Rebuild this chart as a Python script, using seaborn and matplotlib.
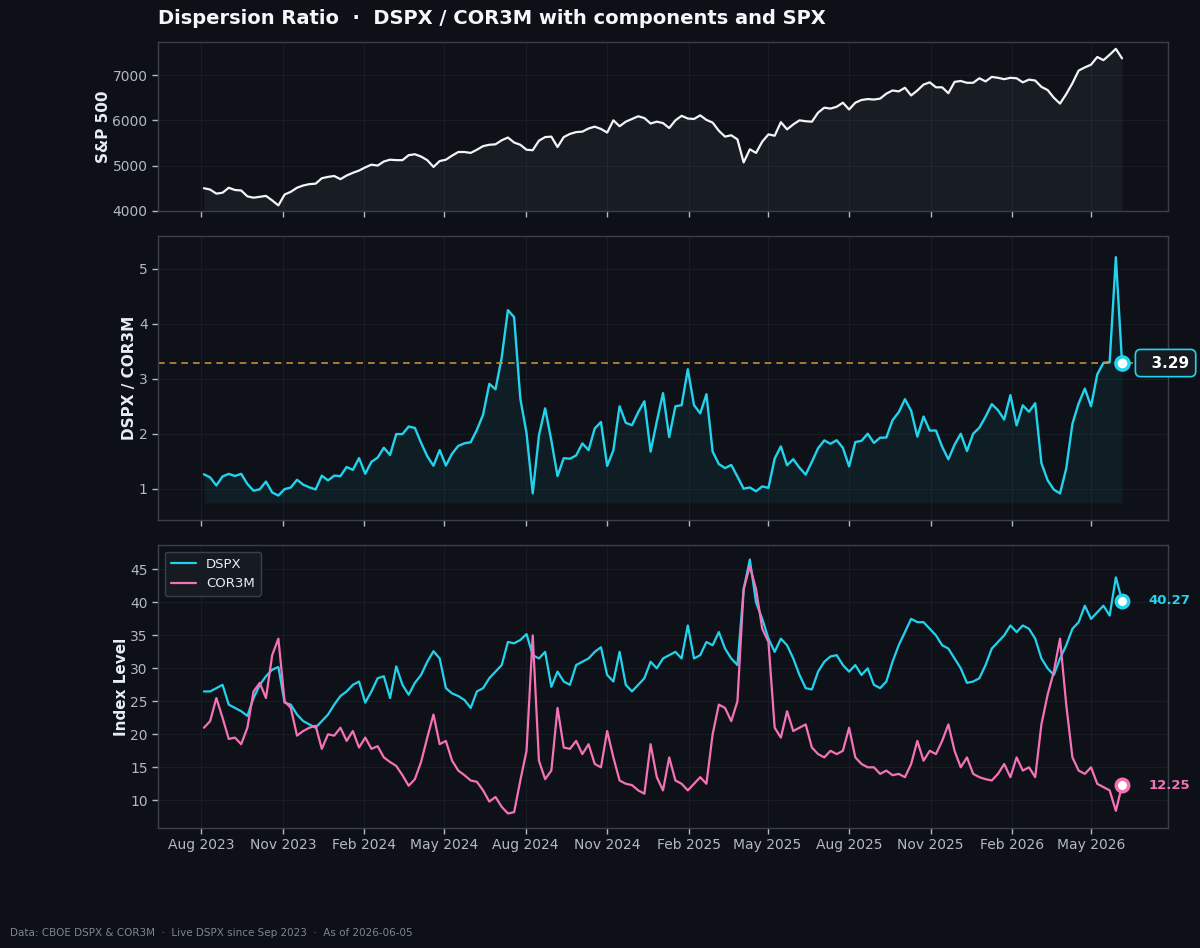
import numpy as np
import pandas as pd
import matplotlib
matplotlib.use("Agg")
import matplotlib.pyplot as plt
import matplotlib.dates as mdates
import seaborn as sns

# ---------------- data (weekly readings, Fridays) ----------------
dates = pd.date_range("2023-08-04", "2026-06-05", freq="7D")

spx = [4500, 4470, 4380, 4400, 4510, 4460, 4450, 4320, 4290, 4310,
       4330, 4230, 4120, 4360, 4420, 4510, 4560, 4590, 4600, 4720,
       4750, 4770, 4700, 4780, 4840, 4890, 4960, 5020, 5000, 5090,
       5130, 5120, 5120, 5230, 5250, 5200, 5120, 4970, 5100, 5130,
       5220, 5300, 5300, 5280, 5350, 5430, 5460, 5470, 5560, 5620,
       5510, 5460, 5350, 5340, 5550, 5630, 5640, 5410, 5630, 5700,
       5740, 5750, 5820, 5860, 5810, 5730, 6000, 5870, 5970, 6030,
       6090, 6050, 5930, 5970, 5940, 5830, 6000, 6100, 6040, 6030,
       6110, 6010, 5950, 5770, 5640, 5670, 5580, 5070, 5360, 5280,
       5530, 5690, 5660, 5960, 5800, 5910, 6000, 5980, 5970, 6170,
       6280, 6260, 6300, 6390, 6240, 6390, 6450, 6470, 6460, 6480,
       6590, 6660, 6640, 6720, 6550, 6660, 6790, 6840, 6730, 6730,
       6600, 6850, 6870, 6830, 6830, 6930, 6860, 6960, 6940, 6910,
       6940, 6930, 6840, 6900, 6880, 6740, 6670, 6500, 6370, 6580,
       6820, 7100, 7170, 7230, 7400, 7330, 7450, 7580, 7370]

dspx = [26.5, 26.5, 27.0, 27.5, 24.5, 24.0, 23.5, 22.8, 25.5, 27.5,
        28.8, 29.8, 30.2, 24.8, 24.5, 23.0, 22.0, 21.5, 21.0, 22.0,
        23.0, 24.5, 25.8, 26.5, 27.5, 28.0, 24.8, 26.5, 28.5, 28.8,
        25.5, 30.3, 27.5, 26.0, 27.8, 29.0, 31.0, 32.6, 31.5, 27.0,
        26.2, 25.8, 25.2, 24.0, 26.5, 27.0, 28.5, 29.5, 30.5, 34.0,
        33.8, 34.3, 35.2, 32.0, 31.5, 32.5, 27.2, 29.5, 28.0, 27.5,
        30.5, 31.0, 31.5, 32.5, 33.2, 29.0, 28.0, 32.5, 27.5, 26.5,
        27.5, 28.5, 31.0, 30.0, 31.5, 32.0, 32.5, 31.5, 36.5, 31.5,
        32.0, 34.0, 33.5, 35.5, 33.0, 31.5, 30.5, 42.0, 46.5, 40.0,
        37.5, 34.5, 32.5, 34.5, 33.5, 31.5, 29.0, 27.0, 26.8, 29.5,
        31.0, 31.8, 32.0, 30.5, 29.5, 30.5, 29.0, 30.0, 27.5, 27.0,
        28.0, 31.0, 33.5, 35.5, 37.5, 37.0, 37.0, 36.0, 35.0, 33.5,
        33.0, 31.5, 30.0, 27.8, 28.0, 28.5, 30.5, 33.0, 34.0, 35.0,
        36.5, 35.5, 36.5, 36.0, 34.5, 31.5, 30.0, 29.0, 31.5, 33.5,
        36.0, 37.0, 39.5, 37.5, 38.5, 39.5, 38.0, 43.8, 40.27]

cor3m = [21.0, 22.0, 25.5, 22.5, 19.3, 19.5, 18.5, 21.0, 26.5, 27.8,
         25.5, 32.0, 34.5, 25.0, 24.0, 19.8, 20.5, 21.0, 21.3, 17.8,
         20.0, 19.8, 21.0, 19.0, 20.5, 18.0, 19.5, 17.8, 18.2, 16.5,
         15.8, 15.2, 13.8, 12.2, 13.2, 15.8, 19.5, 23.0, 18.5, 19.0,
         16.0, 14.5, 13.8, 13.0, 12.8, 11.5, 9.8, 10.5, 9.0, 8.0,
         8.2, 13.0, 17.5, 35.0, 16.0, 13.2, 14.5, 24.0, 18.0, 17.8,
         19.0, 17.0, 18.5, 15.5, 15.0, 20.5, 16.5, 13.0, 12.5, 12.3,
         11.5, 11.0, 18.5, 13.5, 11.5, 16.5, 13.0, 12.5, 11.5, 12.5,
         13.5, 12.5, 20.0, 24.5, 24.0, 22.0, 25.0, 42.0, 45.5, 42.0,
         36.0, 34.0, 21.0, 19.5, 23.5, 20.5, 21.0, 21.5, 18.0, 17.0,
         16.5, 17.5, 17.0, 17.5, 21.0, 16.5, 15.5, 15.0, 15.0, 14.0,
         14.5, 13.8, 14.0, 13.5, 15.5, 19.0, 16.0, 17.5, 17.0, 19.0,
         21.5, 17.5, 15.0, 16.5, 14.0, 13.5, 13.2, 13.0, 14.0, 15.5,
         13.5, 16.5, 14.5, 15.0, 13.5, 21.5, 26.0, 29.5, 34.5, 24.5,
         16.5, 14.5, 14.0, 15.0, 12.5, 12.0, 11.5, 8.4, 12.25]

df = pd.DataFrame({"date": dates, "spx": spx, "dspx": dspx, "cor3m": cor3m})
df["ratio"] = df["dspx"] / df["cor3m"]

# ---------------- style ----------------
BG = "#0d1117"
AX_BG = "#0e1218"
SPINE = "#3b4048"
GRID = "#1a1f27"
TXT = "#e6edf3"
TICK = "#b3b9c1"
CYAN = "#22d3ee"
PINK = "#f472b6"
GOLD = "#c9963a"

sns.set_theme(style="dark", rc={
    "figure.facecolor": BG, "axes.facecolor": AX_BG,
    "axes.edgecolor": SPINE, "axes.labelcolor": TXT,
    "xtick.color": TICK, "ytick.color": TICK,
    "text.color": TXT, "grid.color": GRID,
})
plt.rcParams["font.family"] = ["DejaVu Sans"]

fig = plt.figure(figsize=(12, 9.48), dpi=100)
gs = fig.add_gridspec(3, 1, height_ratios=[169, 284, 283], hspace=0.102,
                      left=0.1317, right=0.9733, top=0.9557, bottom=0.1266)
ax1 = fig.add_subplot(gs[0])
ax2 = fig.add_subplot(gs[1], sharex=ax1)
ax3 = fig.add_subplot(gs[2], sharex=ax1)

for ax in (ax1, ax2, ax3):
    ax.set_facecolor(AX_BG)
    for s in ax.spines.values():
        s.set_color(SPINE)
        s.set_linewidth(1.0)
    ax.grid(True, color=GRID, linewidth=0.6)
    ax.tick_params(axis="both", colors=TICK, labelsize=10, length=4,
                   direction="out", width=1, bottom=True, left=True)

# ---- panel 1: SPX ----
sns.lineplot(data=df, x="date", y="spx", ax=ax1, color="#f2f4f7", linewidth=1.6)
spx_lo = df["spx"].min() * 0.97
ax1.fill_between(df["date"], df["spx"], spx_lo, color="#9aa4b2", alpha=0.08, linewidth=0)
ax1.set_ylim(spx_lo, df["spx"].max() * 1.02)
ax1.set_ylabel("S&P 500", fontsize=11, fontweight="bold", color=TXT, labelpad=1)
ax1.set_yticks([4000, 5000, 6000, 7000])

# ---- panel 2: ratio ----
sns.lineplot(data=df, x="date", y="ratio", ax=ax2, color=CYAN, linewidth=1.7)
r_lo = df["ratio"].min() * 0.85
ax2.fill_between(df["date"], df["ratio"], r_lo, color=CYAN, alpha=0.06, linewidth=0)
last_r = df["ratio"].iloc[-1]
ax2.axhline(last_r, color=GOLD, linestyle=(0, (4, 3)), linewidth=1.2, alpha=0.95)
ax2.set_ylim(0.43, 5.6)
ax2.set_yticks([1, 2, 3, 4, 5])
ax2.set_ylabel("DSPX / COR3M", fontsize=11, fontweight="bold", color=TXT, labelpad=1)
ax2.scatter([df["date"].iloc[-1]], [last_r], s=90, facecolor="white",
            edgecolor=CYAN, linewidth=2.5, zorder=6)
ax2.annotate(f"  {last_r:.2f}", xy=(df["date"].iloc[-1], last_r), xytext=(14, 0),
             textcoords="offset points", va="center", ha="left",
             fontsize=11, fontweight="bold", color="white", annotation_clip=False,
             bbox=dict(boxstyle="round,pad=0.4,rounding_size=0.35",
                       facecolor="#161b22", edgecolor=CYAN, linewidth=1.2))

# ---- panel 3: components ----
long = df.melt(id_vars="date", value_vars=["dspx", "cor3m"], var_name="series", value_name="level")
long["series"] = long["series"].map({"dspx": "DSPX", "cor3m": "COR3M"})
sns.lineplot(data=long, x="date", y="level", hue="series", ax=ax3,
             palette={"DSPX": CYAN, "COR3M": PINK}, linewidth=1.6)
ax3.set_ylim(5.8, 48.7)
ax3.set_yticks([10, 15, 20, 25, 30, 35, 40, 45])
ax3.set_ylabel("Index Level", fontsize=11, fontweight="bold", color=TXT, labelpad=1)
for col, c in (("dspx", CYAN), ("cor3m", PINK)):
    v = df[col].iloc[-1]
    ax3.scatter([df["date"].iloc[-1]], [v], s=80, facecolor="white",
                edgecolor=c, linewidth=2.5, zorder=6)
    ax3.annotate(f"{v:.2f}", xy=(df["date"].iloc[-1], v), xytext=(19, 0),
                 textcoords="offset points", va="center", ha="left",
                 fontsize=9.5, fontweight="bold", color=c, annotation_clip=False)
leg = ax3.legend(loc="upper left", fontsize=9.5, frameon=True, title=None,
                 facecolor="#161b22", edgecolor="#3b4048", framealpha=1.0,
                 borderpad=0.45, handlelength=1.9)
for t in leg.get_texts():
    t.set_color(TXT)

# x axis
ax3.xaxis.set_major_locator(mdates.MonthLocator(bymonth=[2, 5, 8, 11]))
ax3.xaxis.set_major_formatter(mdates.DateFormatter("%b %Y"))
for ax in (ax1, ax2):
    plt.setp(ax.get_xticklabels(), visible=False)
for ax in (ax1, ax2, ax3):
    ax.set_xlabel("")
ax1.margins(x=0.05)

fig.text(0.1317, 0.981, "Dispersion Ratio  ·  DSPX / COR3M with components and SPX",
         fontsize=14, fontweight="bold", color="#f5f7fa", va="center", ha="left")
fig.text(0.0083, 0.0158,
         "Data: CBOE DSPX & COR3M  ·  Live DSPX since Sep 2023  ·  As of 2026-06-05",
         fontsize=7.5, color="#7d8590", va="center", ha="left")

fig.savefig("out.png", dpi=100, facecolor=BG)
